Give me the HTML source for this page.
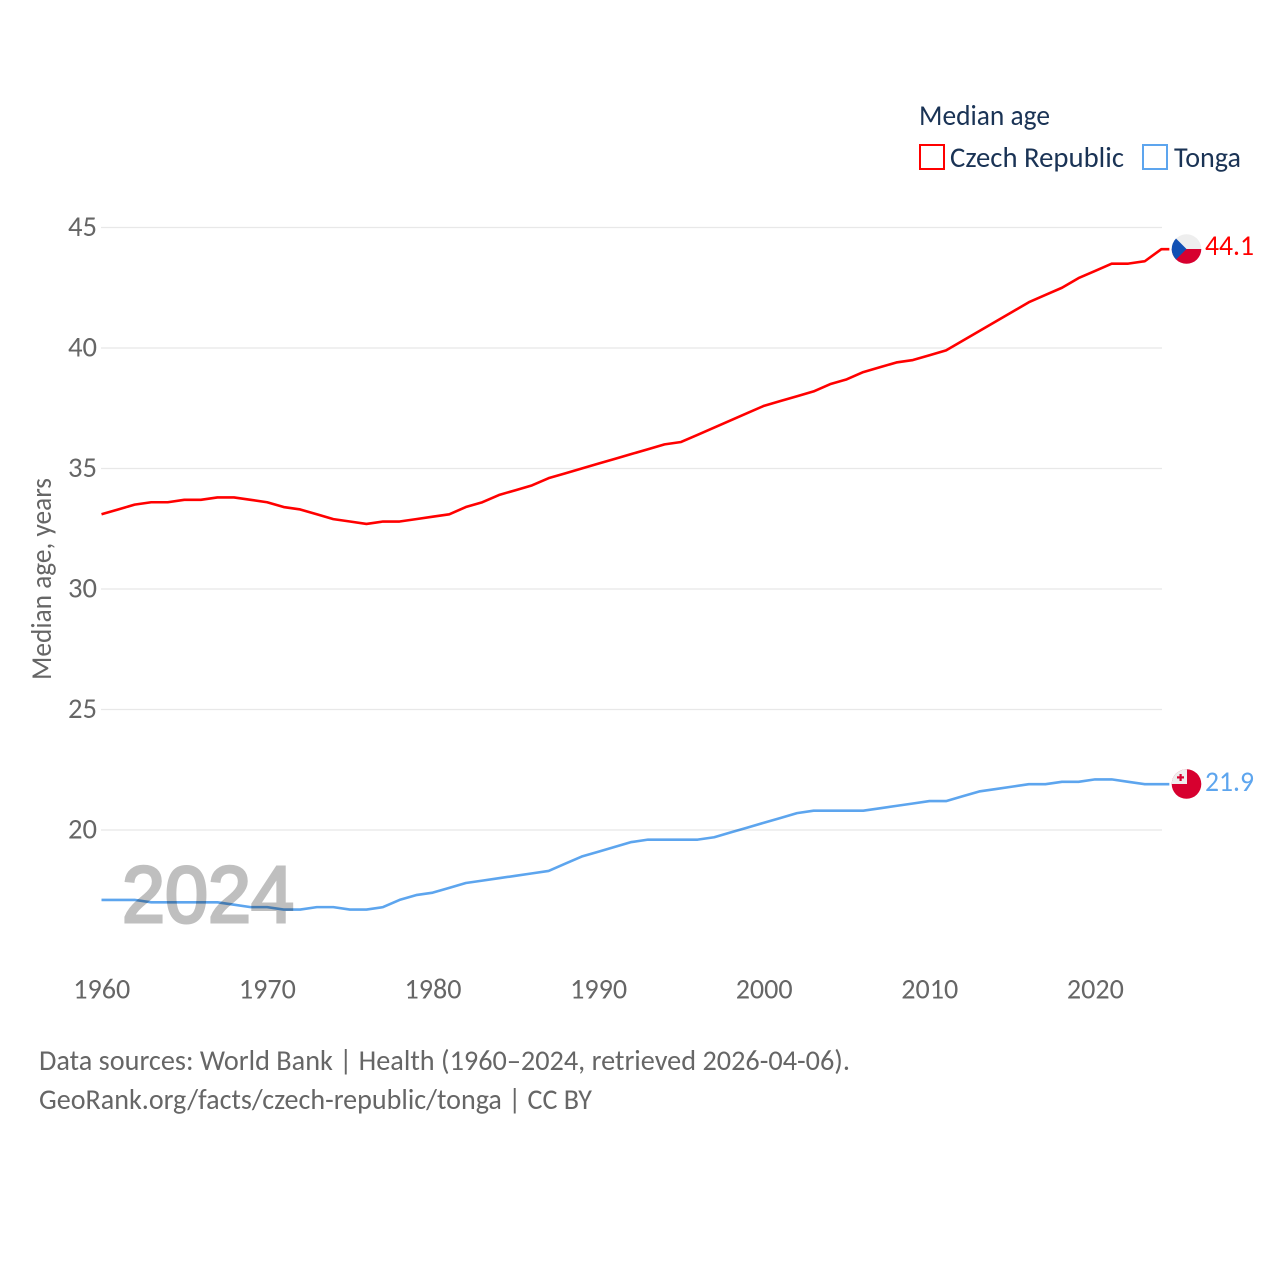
<!DOCTYPE html>
<html lang="en">
<head>
<meta charset="utf-8">
<title>Median age: Czech Republic vs Tonga</title>
<style>
html,body{margin:0;padding:0;background:#fff;}
svg{display:block;font-family:"Carlito","Liberation Sans",sans-serif;}
</style>
</head>
<body>
<svg id="chart" xmlns="http://www.w3.org/2000/svg" width="1280" height="1280" viewBox="0 0 1280 1280">
  <defs>
    <clipPath id="flag-clip-cz"><circle cx="1186.500" cy="249" r="14.800"/></clipPath>
    <clipPath id="flag-clip-to"><circle cx="1186.500" cy="784" r="14.800"/></clipPath>
  </defs>
  <rect width="1280" height="1280" fill="#fff"/>
  <g id="grid"></g>
  <g id="yticks"></g>
  <g id="xticks"></g>
  <text transform="translate(51,680) rotate(-90)" x="0" y="0" font-size="28.500" fill="#666" textLength="202" lengthAdjust="spacingAndGlyphs">Median age, years</text>
  <text x="122" y="922" font-size="80" font-weight="400" fill="#bfbfbf" stroke="#bfbfbf" stroke-width="3" style="font-family:'Liberation Sans',sans-serif" textLength="172" lengthAdjust="spacingAndGlyphs">2024</text>
  <g id="series"></g>

  <g clip-path="url(#flag-clip-cz)">
    <rect x="1171" y="234" width="31" height="15" fill="#eeeeee"/>
    <rect x="1171" y="249" width="31" height="15" fill="#d7002f"/>
    <polygon points="1171,233.500 1186.500,249 1171,264.500" fill="#1150b4"/>
  </g>
  <g clip-path="url(#flag-clip-to)">
    <rect x="1171" y="769" width="31" height="30" fill="#d7002f"/>
    <rect x="1171" y="769" width="16" height="15" fill="#eeeeee"/>
    <rect x="1179.500" y="774" width="2.200" height="7" fill="#d7002f"/>
    <rect x="1177" y="776.300" width="7" height="2.200" fill="#d7002f"/>
  </g>
  <text id="end-cz" x="1205" y="255" font-size="28.500" fill="#ff0000" textLength="49" lengthAdjust="spacingAndGlyphs"></text>
  <text id="end-to" x="1205" y="791" font-size="28.500" fill="#5da5ee" textLength="49" lengthAdjust="spacingAndGlyphs"></text>

  <g>
    <text x="919" y="125.200" font-size="28.500" fill="#1a3355" textLength="131" lengthAdjust="spacingAndGlyphs">Median age</text>
    <g>
      <rect x="920" y="145" width="24" height="24" fill="#fff" stroke="#ff0000" stroke-width="2"/>
      <text x="950" y="167.200" font-size="28.500" fill="#1a3355" textLength="174" lengthAdjust="spacingAndGlyphs">Czech Republic</text>
    </g>
    <g>
      <rect x="1143" y="145" width="24" height="24" fill="#fff" stroke="#5da5ee" stroke-width="2"/>
      <text x="1174" y="167.200" font-size="28.500" fill="#1a3355" textLength="67" lengthAdjust="spacingAndGlyphs">Tonga</text>
    </g>
  </g>

  <text x="39" y="1070" font-size="28.500" fill="#666" textLength="811" lengthAdjust="spacingAndGlyphs">Data sources: World Bank | Health (1960–2024, retrieved 2026-04-06).</text>
  <text x="39" y="1109" font-size="28.500" fill="#666" textLength="553" lengthAdjust="spacingAndGlyphs">GeoRank.org/facts/czech-republic/tonga | CC BY</text>
</svg>
<script>
const years = [1960,1961,1962,1963,1964,1965,1966,1967,1968,1969,1970,1971,1972,1973,1974,1975,1976,1977,1978,1979,1980,1981,1982,1983,1984,1985,1986,1987,1988,1989,1990,1991,1992,1993,1994,1995,1996,1997,1998,1999,2000,2001,2002,2003,2004,2005,2006,2007,2008,2009,2010,2011,2012,2013,2014,2015,2016,2017,2018,2019,2020,2021,2022,2023,2024];
const czechRepublic = [33.1,33.3,33.5,33.6,33.6,33.7,33.7,33.8,33.8,33.7,33.6,33.4,33.3,33.1,32.9,32.8,32.7,32.8,32.8,32.9,33.0,33.1,33.4,33.6,33.9,34.1,34.3,34.6,34.8,35.0,35.2,35.4,35.6,35.8,36.0,36.1,36.4,36.7,37.0,37.3,37.6,37.8,38.0,38.2,38.5,38.7,39.0,39.2,39.4,39.5,39.7,39.9,40.3,40.7,41.1,41.5,41.9,42.2,42.5,42.9,43.2,43.5,43.5,43.6,44.1];
const tonga = [17.1,17.1,17.1,17.0,17.0,17.0,17.0,17.0,16.9,16.8,16.8,16.7,16.7,16.8,16.8,16.7,16.7,16.8,17.1,17.3,17.4,17.6,17.8,17.9,18.0,18.1,18.2,18.3,18.6,18.9,19.1,19.3,19.5,19.6,19.6,19.6,19.6,19.7,19.9,20.1,20.3,20.5,20.7,20.8,20.8,20.8,20.8,20.9,21.0,21.1,21.2,21.2,21.4,21.6,21.7,21.8,21.9,21.9,22.0,22.0,22.1,22.1,22.0,21.9,21.9];
const yTickValues = [20,25,30,35,40,45];
const xTickValues = [1960,1970,1980,1990,2000,2010,2020];

const NS = 'http://www.w3.org/2000/svg';
function xScale(year){ return 101.5 + (year - 1960) * 16.56; }
function yScale(value){ return 830 - (value - 20) * 24.1; }
function make(tag, attrs){
  const el = document.createElementNS(NS, tag);
  for (const k in attrs) el.setAttribute(k, attrs[k]);
  return el;
}

const grid = document.getElementById('grid');
const yG = document.getElementById('yticks');
yTickValues.forEach(function(v){
  const line = make('line', {x1:101, x2:1162, y1:yScale(v), y2:yScale(v), stroke:'#e8e8e8', 'stroke-width':1.3});
  
  
  grid.appendChild(line);
  const t = make('text', {x:97, y:yScale(v) + 8.7, 'font-size':28.5, fill:'#666', 'text-anchor':'end', textLength:29, lengthAdjust:'spacingAndGlyphs'});
  
  
  t.textContent = v;
  yG.appendChild(t);
});

const xG = document.getElementById('xticks');
xTickValues.forEach(function(v){
  const t = make('text', {x:xScale(v) + 0.3, y:998.3, 'font-size':28.5, fill:'#666', 'text-anchor':'middle', textLength:57, lengthAdjust:'spacingAndGlyphs'});
  
  
  t.textContent = v;
  xG.appendChild(t);
});

function linePath(values){
  let d = values.map(function(v, i){
    return (i ? 'L' : 'M') + xScale(years[i]).toFixed(2) + ' ' + yScale(v).toFixed(2);
  }).join(' ');
  const last = values.length - 1;
  d += ' L' + (xScale(years[last]) + 8).toFixed(2) + ' ' + yScale(values[last]).toFixed(2);
  return d;
}

const seriesG = document.getElementById('series');
const czLine = make('path', {d:linePath(czechRepublic), fill:'none', stroke:'#ff0000', 'stroke-width':2.6, 'stroke-linejoin':'round'});


seriesG.appendChild(czLine);
const toLine = make('path', {d:linePath(tonga), fill:'none', stroke:'#5da5ee', 'stroke-width':2.6, 'stroke-linejoin':'round', style:'mix-blend-mode:multiply'});


seriesG.appendChild(toLine);

document.getElementById('end-cz').textContent = czechRepublic[czechRepublic.length - 1].toFixed(1);
document.getElementById('end-to').textContent = tonga[tonga.length - 1].toFixed(1);
</script>
</body>
</html>
